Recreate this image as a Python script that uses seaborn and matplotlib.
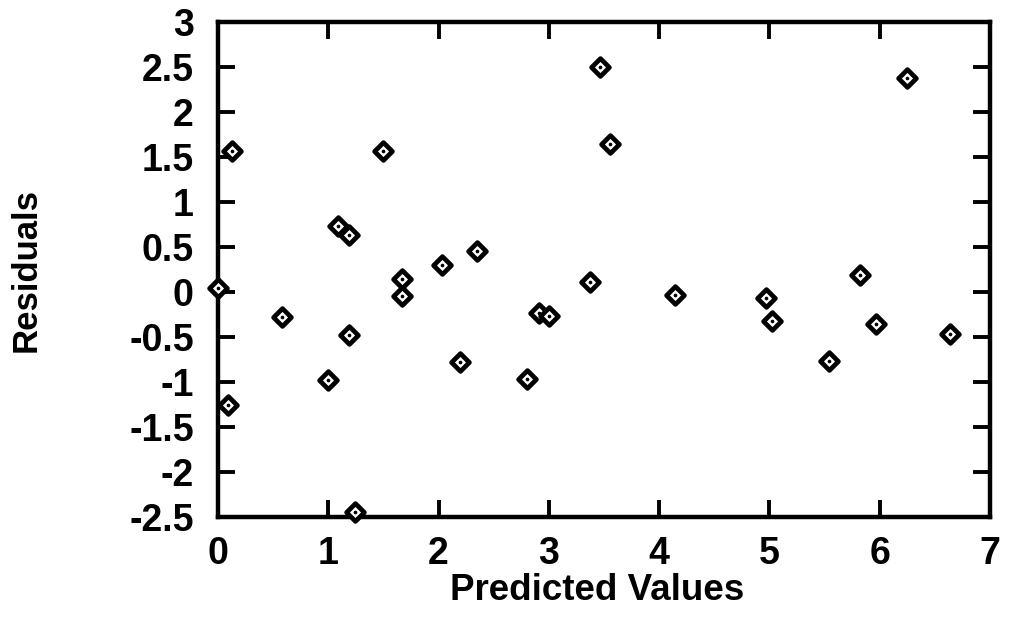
import matplotlib
matplotlib.use("Agg")
import matplotlib.pyplot as plt
import seaborn as sns
import pandas as pd

# Residuals against predicted values from the regression fit
predicted = [0.00, 0.13, 0.09, 0.58, 1.00, 1.09, 1.19, 1.19, 1.24, 1.50,
             1.67, 1.67, 2.03, 2.35, 2.19, 2.80, 2.91, 3.00, 3.37, 3.46,
             3.55, 4.14, 4.97, 5.02, 5.54, 5.82, 5.97, 6.64, 6.25]
residuals = [0.05, 1.57, -1.25, -0.28, -0.98, 0.73, 0.63, -0.48, -2.44, 1.57,
             0.14, -0.04, 0.30, 0.46, -0.78, -0.97, -0.23, -0.27, 0.11, 2.50,
             1.64, -0.03, -0.07, -0.32, -0.77, 0.19, -0.35, -0.47, 2.38]

x_ticks = [0, 1, 2, 3, 4, 5, 6, 7]
y_ticks = [3, 2.5, 2, 1.5, 1, 0.5, 0, -0.5, -1, -1.5, -2, -2.5]
y_tick_labels = ["3", "2.5", "2", "1.5", "1", "0.5", "0", "-0.5", "-1", "-1.5", "-2", "-2.5"]

df = pd.DataFrame({"Predicted Values": predicted, "Residuals": residuals})

sns.set_style("ticks")
plt.rcParams["font.family"] = ["Liberation Sans", "DejaVu Sans"]
plt.rcParams["font.weight"] = "bold"

fig = plt.figure(figsize=(10.12, 6.17), dpi=100)
ax = fig.add_axes([218 / 1012, 1 - 517 / 617, (990 - 218) / 1012, (517 - 22) / 617])

# open diamonds with a small dot in the centre
sns.scatterplot(data=df, x="Predicted Values", y="Residuals", ax=ax,
                marker="D", s=82, facecolor="white", edgecolor="black",
                linewidth=3.4, clip_on=False, zorder=3)
sns.scatterplot(data=df, x="Predicted Values", y="Residuals", ax=ax,
                marker="o", s=7, color="black", linewidth=0,
                clip_on=False, zorder=4)

ax.set_xlim(0, 7)
ax.set_ylim(-2.5, 3)
ax.set_xticks(x_ticks)
ax.set_xticklabels([str(t) for t in x_ticks])
ax.set_yticks(y_ticks)
ax.set_yticklabels(y_tick_labels)

for side in ["left", "right", "top", "bottom"]:
    ax.spines[side].set_visible(True)
    ax.spines[side].set_linewidth(3.2)
    ax.spines[side].set_color("black")

ax.tick_params(axis="both", which="major", direction="in", length=12, width=2.8,
               top=True, right=True, labelsize=27, colors="black")
ax.tick_params(axis="x", pad=14)
ax.tick_params(axis="y", pad=17.5)
for lbl in ax.get_xticklabels() + ax.get_yticklabels():
    lbl.set_fontweight("bold")

ax.set_xlabel("Predicted Values", fontsize=26.5, fontweight="bold", color="black")
ax.set_ylabel("Residuals", fontsize=25, fontweight="bold", color="black")
ax.xaxis.set_label_coords(0.4916, -0.113)
ax.yaxis.set_label_coords(-0.2267, 0.5)

fig.savefig("out.png", dpi=100, facecolor="white")
